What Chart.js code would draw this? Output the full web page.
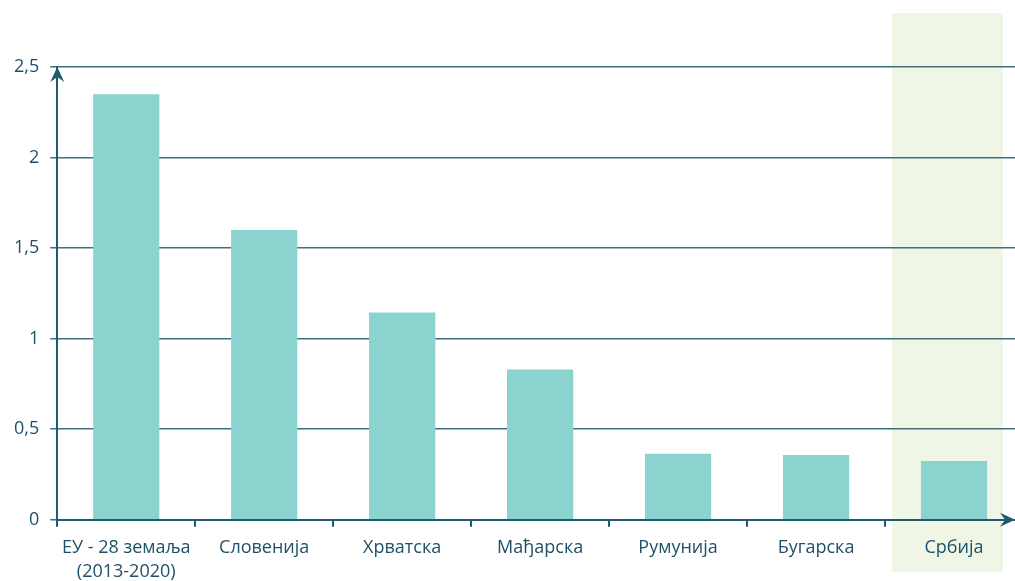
<!DOCTYPE html>
<html>
<head>
<meta charset="utf-8">
<script src="https://cdn.jsdelivr.net/npm/chart.js@4"></script>
<style>
  html, body { margin: 0; padding: 0; background: #fff; overflow: hidden; }
  #wrap { width: 1030px; height: 581px; position: relative; }
</style>
</head>
<body>
<div id="wrap"><canvas id="barChart"></canvas></div>
<script>
// Data
const categories = [
  ["ЕУ - 28 земаља", "(2013-2020)"],
  "Словенија",
  "Хрватска",
  "Мађарска",
  "Румунија",
  "Бугарска",
  "Србија",
];
const values = [2.35, 1.6, 1.145, 0.83, 0.365, 0.358, 0.325];
const highlightIndex = 6;

const axisColor = "#1f5a70";
const textColor = "#1f5068";

// highlight band behind Serbia + axis arrowheads
const extras = {
  id: "extras",
  beforeDraw(chart) {
    const { ctx, scales } = chart;
    const x = scales.x;
    const step = x.getPixelForValue(1) - x.getPixelForValue(0);
    const cx = x.getPixelForValue(highlightIndex);
    ctx.save();
    ctx.fillStyle = "#f0f6e6";
    ctx.fillRect(cx - step * 0.45, 13, step * 0.805, 559);
    ctx.restore();
  },
  afterDraw(chart) {
    const { ctx, chartArea } = chart;
    ctx.save();
    ctx.fillStyle = axisColor;
    // y arrow
    const ax = chartArea.left, ay = chartArea.top;
    ctx.beginPath();
    ctx.moveTo(ax, ay);
    ctx.lineTo(ax + 7, ay + 15);
    ctx.lineTo(ax, ay + 10);
    ctx.lineTo(ax - 7, ay + 15);
    ctx.closePath();
    ctx.fill();
    // x arrow
    const bx = 1015, by = chartArea.bottom;
    ctx.beginPath();
    ctx.moveTo(bx, by);
    ctx.lineTo(bx - 15, by - 7);
    ctx.lineTo(bx - 10, by);
    ctx.lineTo(bx - 15, by + 7);
    ctx.closePath();
    ctx.fill();
    ctx.restore();
  },
};

const ctx = document.getElementById("barChart").getContext("2d");
new Chart(ctx, {
  type: "bar",
  data: {
    labels: categories,
    datasets: [{
      data: values,
      backgroundColor: "#8bd3cf",
      barPercentage: 1,
      categoryPercentage: 0.48,
    }],
  },
  options: {
    responsive: true,
    maintainAspectRatio: false,
    animation: false,
    layout: { padding: { top: 67, left: 3, right: 7, bottom: -12 } },
    plugins: { legend: { display: false }, tooltip: { enabled: false } },
    scales: {
      x: {
        border: { display: true, color: axisColor, width: 2 },
        grid: { drawOnChartArea: false, color: axisColor, tickLength: 7, lineWidth: 2 },
        ticks: {
          color: textColor,
          padding: 9,
          maxRotation: 0,
          autoSkip: false,
          font: { family: "Open Sans", size: 18, lineHeight: 1.34 },
        },
      },
      y: {
        min: 0,
        max: 2.5,
        border: { display: true, color: axisColor, width: 2 },
        grid: { color: "#3f6f80", lineWidth: 1.5, tickLength: 7 },
        ticks: {
          stepSize: 0.5,
          color: textColor,
          padding: 11,
          font: { family: "Open Sans", size: 18 },
          callback: (v) => String(v).replace(".", ","),
        },
      },
    },
  },
  plugins: [extras],
});
</script>
</body>
</html>
